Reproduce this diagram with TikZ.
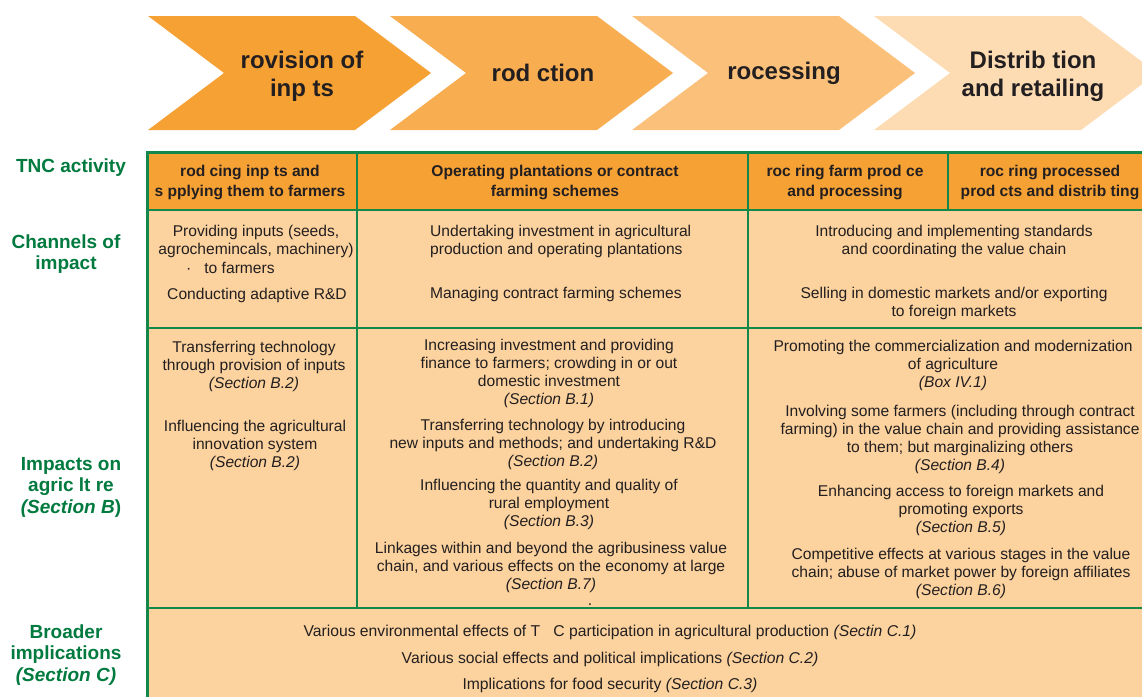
\documentclass[tikz,border=0pt]{standalone}
\usepackage{fontspec}
\setmainfont{Liberation Sans}
\definecolor{chevA}{RGB}{246,161,52}
\definecolor{chevB}{RGB}{248,173,80}
\definecolor{chevC}{RGB}{251,192,122}
\definecolor{chevD}{RGB}{253,220,180}
\definecolor{hdrfill}{RGB}{246,161,52}
\definecolor{bodyfill}{RGB}{252,210,158}
\definecolor{gridgreen}{RGB}{20,135,75}
\definecolor{labgreen}{RGB}{0,122,62}
\definecolor{txt}{RGB}{35,31,32}
\begin{document}
\begin{tikzpicture}[x=1pt,y=-1pt,
  chevtext/.style={font=\fontsize{24}{28}\selectfont\bfseries, text=txt, align=center, inner sep=0pt},
  hdrtext/.style={font=\fontsize{15.6}{20}\selectfont\bfseries, text=txt, align=center, inner sep=0pt},
  bodytext/.style={font=\fontsize{15.6}{18}\selectfont, text=txt, align=center, inner sep=0pt},
  bodyleft/.style={bodytext, align=left, anchor=west},
  broadtext/.style={font=\fontsize{15.7}{26.5}\selectfont, text=txt, align=center, inner sep=0pt},
  labtext/.style={font=\fontsize{19}{21.5}\selectfont\bfseries, text=labgreen, align=center, inner sep=0pt},
  outerline/.style={draw=gridgreen, line width=3pt},
  gridline/.style={draw=gridgreen, line width=2pt},
]
\useasboundingbox (0,0) rectangle (1142,696);
\clip (0,0) rectangle (1142,696);
\fill[white] (0,0) rectangle (1142,696);

% chevrons
\foreach \i/\c in {0/chevA,1/chevB,2/chevC,3/chevD}{
  \pgfmathsetmacro{\xo}{148+242*\i}
  \fill[\c] (\xo,16) -- ++(207,0) -- ++(76,57) -- ++(-76,57) -- ++(-207,0) -- ++(76,-57) -- cycle;
}
\node[chevtext] (stage1) at (302,76) {rovision of\\inp ts};
\node[chevtext] (stage2) at (543,73) {rod ction};
\node[chevtext] (stage3) at (784,73) {rocessing};
\node[chevtext] (stage4) at (1033,76) {Distrib tion\\and retailing};

% table fills
\fill[bodyfill] (147,152) rectangle (1170,710);
\fill[hdrfill] (147,152) rectangle (1170,210);
% grid lines
\draw[gridline] (147,210) -- (1170,210);
\draw[gridline] (147,328) -- (1170,328);
\draw[gridline] (147,608) -- (1170,608);
\draw[gridline] (357,152) -- (357,608);
\draw[gridline] (748,152) -- (748,608);
\draw[gridline] (948,152) -- (948,210);
\draw[outerline] (147,710) -- (147,152) -- (1170,152);

% row labels
\node[labtext] (labTNC) at (71,168) {TNC activity};
\node[labtext] (labChan) at (66,254) {Channels of\\impact};
\node[labtext] (labImp) at (71,487) {Impacts on\\agric lt re\\\textit{(Section B})};
\node[labtext] (labBroad) at (66,655) {Broader\\implications\\\textit{(Section C)}};

% header row
\node[hdrtext] (h1) at (250,182) {rod cing inp ts and\\s pplying them to farmers};
\node[hdrtext] (h2) at (555,182) {Operating plantations or contract\\farming schemes};
\node[hdrtext] (h3) at (845,182) {roc ring farm prod ce\\and processing};
\node[hdrtext] (h4) at (1050,182) {roc ring processed\\prod cts and distrib ting};

% channels of impact
\node[bodytext] (c1a) at (256,241) {Providing inputs (seeds,\\agrochemincals, machinery)};
\node[bodytext, anchor=west] (c1dot) at (186,268) {·\ \ \ to farmers};
\node[bodytext] (c1b) at (257,295) {Conducting adaptive R\&D};
\node[bodyleft] (c2a) at (430,241) {Undertaking investment in agricultural\\production and operating plantations};
\node[bodyleft] (c2b) at (430,294) {Managing contract farming schemes};
\node[bodytext] (c3a) at (954,241) {Introducing and implementing standards\\and coordinating the value chain};
\node[bodytext] (c3b) at (954,303) {Selling in domestic markets and/or exporting\\to foreign markets};

% impacts on agriculture
\node[bodytext] (i1a) at (254,366) {Transferring technology\\through provision of inputs\\\textit{(Section B.2)}};
\node[bodytext] (i1b) at (255,445) {Influencing the agricultural\\innovation system\\\textit{(Section B.2)}};
\node[bodytext] (i2a) at (549,373) {Increasing investment and providing\\finance to farmers; crowding in or out\\domestic investment\\\textit{(Section B.1)}};
\node[bodytext] (i2b) at (553,444) {Transferring technology by introducing\\new inputs and methods; and undertaking R\&D\\\textit{(Section B.2)}};
\node[bodytext] (i2c) at (549,504) {Influencing the quantity and quality of\\rural employment\\\textit{(Section B.3)}};
\node[bodytext] (i2d) at (551,567) {Linkages within and beyond the agribusiness value\\chain, and various effects on the economy at large\\\textit{(Section B.7)}};
\node[bodytext, text height=2pt, text depth=0pt] (i2dot) at (590,604) {.};
\node[bodytext] (i3a) at (953,365) {Promoting the commercialization and modernization\\of agriculture\\\textit{(Box IV.1)}};
\node[bodytext] (i3b) at (960,439) {Involving some farmers (including through contract\\farming) in the value chain and providing assistance\\to them; but marginalizing others\\\textit{(Section B.4)}};
\node[bodytext] (i3c) at (961,510) {Enhancing access to foreign markets and\\promoting exports\\\textit{(Section B.5)}};
\node[bodytext] (i3d) at (961,573) {Competitive effects at various stages in the value\\chain; abuse of market power by foreign affiliates\\\textit{(Section B.6)}};

% broader implications
\node[broadtext] (b1) at (610,659) {Various environmental effects of T\ \ \ C participation in agricultural production \textit{(Sectin C.1)}\\Various social effects and political implications \textit{(Section C.2)}\\Implications for food security \textit{(Section C.3)}};
\end{tikzpicture}
\end{document}
